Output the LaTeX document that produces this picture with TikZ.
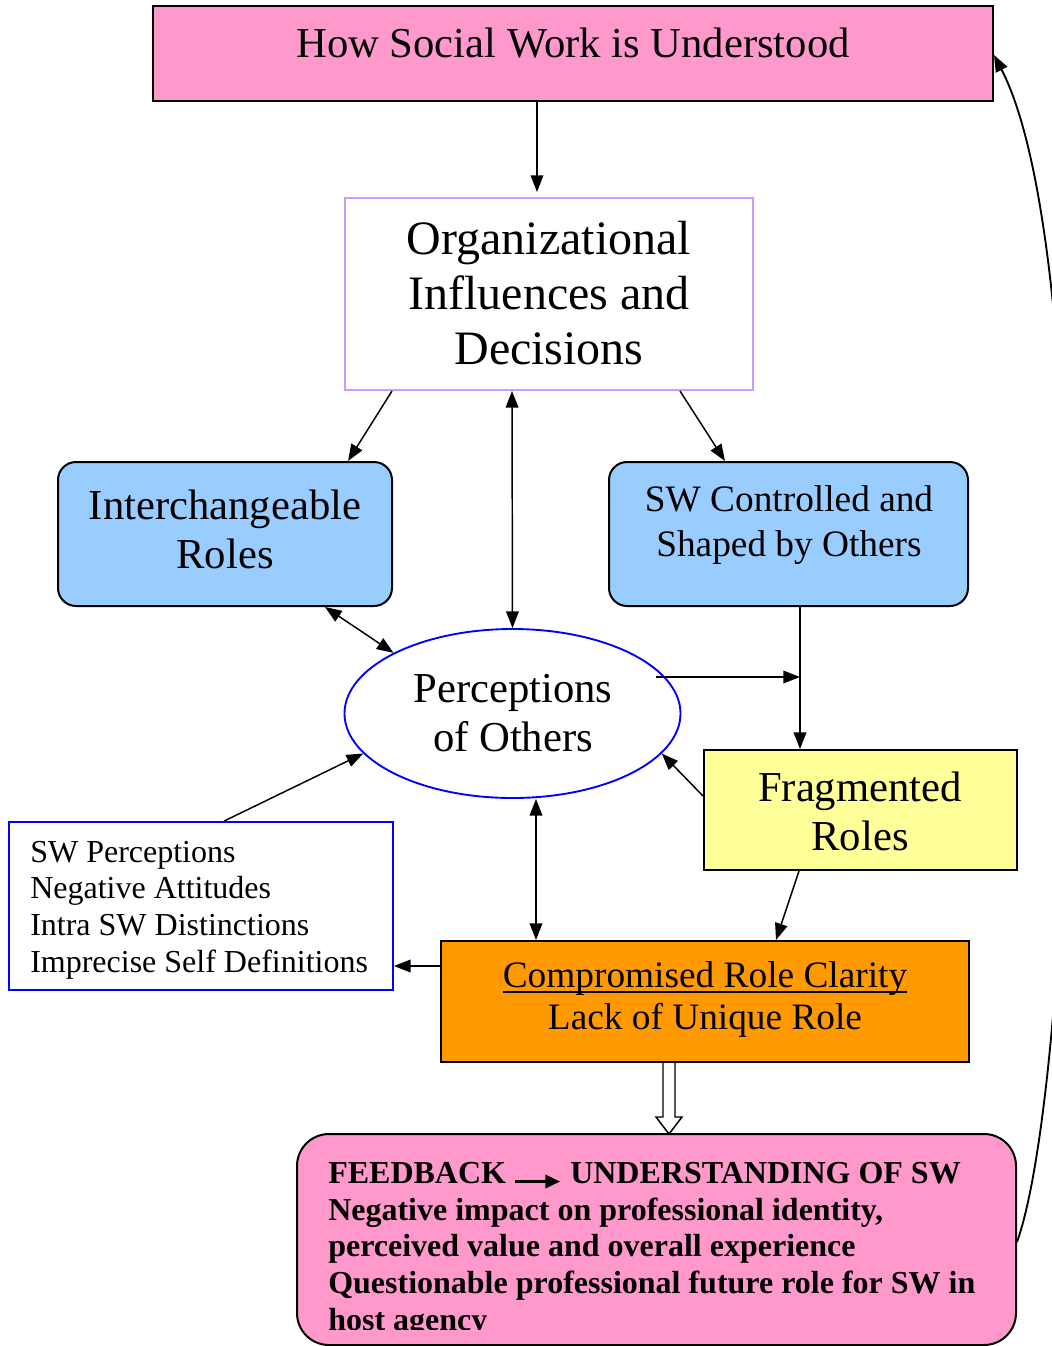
\documentclass[tikz,border=0pt]{standalone}
\usepackage{fontspec}
\setmainfont{Liberation Serif}
\usetikzlibrary{arrows.meta,shapes.geometric,calc}
\definecolor{pinkf}{HTML}{FF99CC}
\definecolor{violetb}{HTML}{CC99FF}
\definecolor{bluef}{HTML}{99CCFF}
\definecolor{yellowf}{HTML}{FFFF99}
\definecolor{orangef}{HTML}{FF9900}
\newcommand{\myul}[1]{\setbox0\hbox{#1}\rlap{\rule[-4.5pt]{\wd0}{1.4pt}}\box0}
\begin{document}
\begin{tikzpicture}[x=0.75pt,y=-0.75pt,
  box/.style={draw=black,line width=1.5pt,inner sep=0pt},
  sz/.style 2 args={minimum width=#1*0.75pt,minimum height=#2*0.75pt},
  txt/.style={inner sep=0pt,align=center,text=black},
  con/.style={line width=1.1pt,-{Triangle[length=12.5pt,width=9.5pt]}},
  bicon/.style={line width=1.1pt,{Triangle[length=12.5pt,width=9.5pt]}-{Triangle[length=12.5pt,width=9.5pt]}},
  big/.style={font=\fontsize{32}{36.8}\selectfont},
]
\useasboundingbox (0,0) rectangle (1051,1346);

% boxes
\node[box,fill=pinkf,sz={840}{95}] (top) at (573,53.5) {};
\node[txt,anchor=base,big] (topt) at (573,57) {How Social Work is Understood};

\node[draw=violetb,line width=1.5pt,fill=white,inner sep=0pt,sz={408}{192}] (org) at (549,294) {};
\node[txt,font=\fontsize{36}{41.4}\selectfont] (orgt) at (549,293) {Organizational\\Influences and\\Decisions};

\node[box,rounded corners=13.5pt,fill=bluef,sz={334}{144}] (inter) at (225,534) {};
\node[txt,big] (intert) at (225,529) {Interchangeable\\Roles};

\node[box,rounded corners=13.5pt,fill=bluef,sz={359}{144}] (swc) at (788.5,534) {};
\node[txt,font=\fontsize{28}{33.5}\selectfont] (swct) at (789,525) {SW Controlled and\\Shaped by Others};

\node[ellipse,draw=blue,line width=1.4pt,fill=white,inner sep=0pt,sz={336}{169}] (perc) at (512.5,713.5) {};
\node[txt,big] (perct) at (513,713) {Perceptions\\of Others};

\node[box,fill=yellowf,sz={313}{120}] (frag) at (860.5,810) {};
\node[txt,big] (fragt) at (860,811) {Fragmented\\Roles};

\node[draw=blue,line width=1.4pt,fill=white,inner sep=0pt,sz={384}{168}] (left) at (201,906) {};
\node[txt,align=left,anchor=base west,font=\fontsize{24}{27.5}\selectfont] (leftt) at (30,972) {SW Perceptions\\Negative Attitudes\\Intra SW Distinctions\\Imprecise Self Definitions};

\node[box,fill=orangef,sz={528}{121}] (crc) at (705,1001.5) {};
\node[txt,font=\fontsize{28}{32.2}\selectfont] (crct) at (705,999.5) {\myul{Compromised Role Clarity}\\Lack of Unique Role};

\node[box,fill=pinkf,rounded corners=24pt,sz={719}{211}] (fb) at (656.5,1239.5) {};
\node[txt,anchor=base west,font=\bfseries\fontsize{24}{27.5}\selectfont] (fba) at (328,1183) {FEEDBACK};
\node[txt,anchor=base west,font=\bfseries\fontsize{24}{27.5}\selectfont] (fbb) at (570,1183) {UNDERSTANDING OF SW};
\draw[line width=2pt,-{Triangle[length=11pt,width=10pt]}] ($(fba.base east)+(9,-1.5)$) -- ($(fbb.base west)+(-10,-1.5)$);
\begin{scope}
\clip ($(fb.north west)+(0,60)$) rectangle ($(fb.south east)+(0,-17)$);
\node[txt,align=left,anchor=base west,font=\bfseries\fontsize{24}{27.5}\selectfont] (fbc) at (328,1330) {Negative impact on professional identity,\\perceived value and overall experience\\Questionable professional future role for SW in\\host agency};
\end{scope}

% connectors
\draw[con] ($(top.south)+(-36,0)$) -- ($(org.north)+(-12,-5)$);
\draw[con] ($(org.south west)+(48,0)$) -- ($(inter.north west)+(291,0)$);
\draw[con] ($(org.south west)+(336,0)$) -- ($(swc.north west)+(117,0)$);
\draw[bicon] ($(org.south west)+(168,0)$) -- (perc.north);
\draw[bicon] ($(inter.south east)+(-68,0)$) -- (perc.153);
\coordinate (vtop) at ($(swc.south west)+(192,0)$);
\coordinate (pr) at ($(perc.center)+(143.5,-36.5)$);
\draw[con] (pr) -- (pr -| vtop);
\draw[con] (vtop) -- (vtop |- frag.north);
\draw[con] ($(frag.north west)+(0,47)$) -- (perc.-15);
\draw[con] ($(left.north west)+(216,0)$) -- (perc.195);
\coordinate (cx) at ($(crc.north west)+(96,0)$);
\draw[bicon] (cx |- perc.south) -- (cx);
\draw[con] ($(frag.south west)+(96,0)$) -- ($(crc.north west)+(336,0)$);
\coordinate (cl) at ($(crc.west)+(0,-35.5)$);
\draw[con] (cl) -- (cl -| left.east);
\coordinate (hs) at ($(crc.south)+(-36,0)$);
\draw[line width=1.1pt,fill=white,line join=miter] ($(hs)+(-6,0)$) -- ($(hs)+(-6,54)$) -- ($(hs)+(-13,54)$) -- ($(hs)+(0,71)$) -- ($(hs)+(13,54)$) -- ($(hs)+(6,54)$) -- ($(hs)+(6,0)$);
\draw[line width=1.4pt,-{Triangle[length=12.5pt,width=9.5pt]}] ($(fb.east)+(0,2.5)$) .. controls (1075,1080) and (1100,260) .. ($(top.east)+(0,1.5)$);
\end{tikzpicture}
\end{document}
